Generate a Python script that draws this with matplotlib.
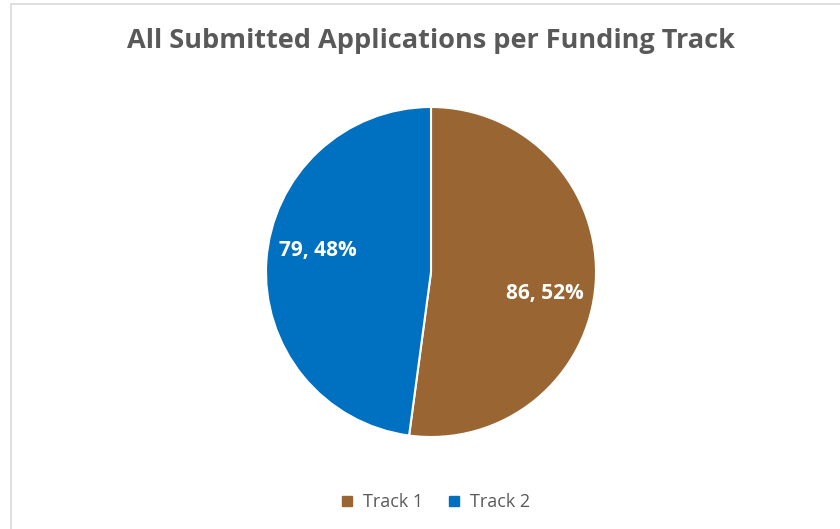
import numpy as np
import matplotlib.pyplot as plt
from matplotlib.patches import Rectangle
from matplotlib.lines import Line2D

# data
labels = ["Track 1", "Track 2"]
counts = [86, 79]
colors = ["#996633", "#0070C0"]
title = "All Submitted Applications per Funding Track"

W, H = 840, 529
fig = plt.figure(figsize=(W / 100, H / 100), dpi=100)
fig.patch.set_facecolor("white")

# chart border (light gray frame)
fig.patches.append(
    Rectangle(
        (11 / W, -0.05),
        1.1,
        (H - 4) / H + 0.05,
        transform=fig.transFigure,
        fill=False,
        edgecolor="#d9d9d9",
        linewidth=1.2,
    )
)

# pie axes
cx, cy, r = 431, 272, 165
ax = fig.add_axes([(cx - r) / W, (H - cy - r) / H, 2 * r / W, 2 * r / H])

total = sum(counts)
wedges, texts = ax.pie(
    counts,
    colors=colors,
    startangle=90,
    counterclock=False,
    wedgeprops=dict(edgecolor="white", linewidth=1.5),
    radius=1.0,
)

# value labels "n, p%"
for w, n in zip(wedges, counts):
    ang = np.deg2rad((w.theta1 + w.theta2) / 2 - 7)
    ax.text(
        0.7 * np.cos(ang),
        0.7 * np.sin(ang),
        f"{n}, {round(100 * n / total)}%",
        ha="center",
        va="center",
        color="white",
        fontsize=15,
        fontweight="bold",
        family="Open Sans",
    )
ax.set_xlim(-1, 1)
ax.set_ylim(-1, 1)
ax.set_aspect("equal")

fig.text(
    431 / W,
    1 - 41 / H,
    title,
    ha="center",
    va="center",
    fontsize=19.5,
    fontweight="bold",
    color="#595959",
    family="Open Sans",
)

handles = [
    Line2D([0], [0], marker="s", linestyle="None", markersize=7,
           markerfacecolor=c, markeredgecolor=c, label=l)
    for c, l in zip(colors, labels)
]
fig.legend(
    handles=handles,
    loc="center",
    bbox_to_anchor=(0.516, 1 - 502 / H),
    ncol=2,
    frameon=False,
    prop=dict(family="Open Sans", size=13),
    labelcolor="#595959",
    handletextpad=0.3,
    handlelength=1.2,
    columnspacing=1.1,
)

fig.savefig("out.png", dpi=100)
